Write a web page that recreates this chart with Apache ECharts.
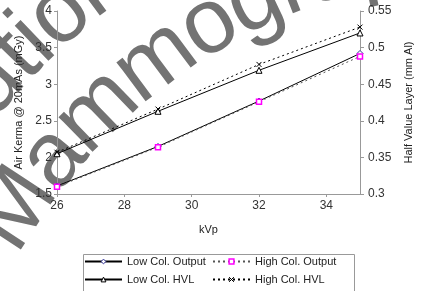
<!DOCTYPE html>
<html>
<head>
<meta charset="utf-8">
<script src="https://cdn.jsdelivr.net/npm/echarts@6/dist/echarts.min.js"></script>
<style>
  html, body { margin: 0; padding: 0; background: #fff; }
  #chart { width: 422px; height: 291px; }
</style>
</head>
<body>
<div id="chart"></div>
<script>
// kVp settings
const kvp = [26, 29, 32, 35]
// air kerma @ 20mAs (mGy)
const lowColOutput = [1.61, 2.15, 2.77, 3.42]
const highColOutput = [1.60, 2.14, 2.76, 3.38]
// half value layer (mm Al)
const lowColHvl = [0.355, 0.413, 0.469, 0.520]
const highColHvl = [0.357, 0.416, 0.477, 0.528]

const FONT = 'Liberation Sans, Arial, sans-serif'
const AXIS_GREY = '#999'

const pairs = vals => kvp.map((k, i) => [k, vals[i]])

// marker styles, shared by series and legend
const lowOutMark = { color: '#fff', borderColor: '#333399', borderWidth: 1 }
const highOutMark = { color: '#fff', borderColor: '#ff00ff', borderWidth: 1.5 }
const lowHvlMark = { color: '#fff', borderColor: '#000', borderWidth: 1 }
const highHvlMark = { color: '#000', borderColor: '#000', borderWidth: 1 }

// curved watermark, one letter at a time along a circle
const measure = document.createElement('canvas').getContext('2d')
function arcText(str, cx, cy, r, startDeg, size) {
  measure.font = size + 'px ' + FONT
  const out = []
  let a = startDeg
  for (const ch of str) {
    const da = measure.measureText(ch).width / r * 180 / Math.PI
    const mid = (a - da / 2) * Math.PI / 180
    out.push({
      type: 'text',
      x: cx + r * Math.cos(mid),
      y: cy - r * Math.sin(mid),
      rotation: mid - Math.PI / 2,
      z: 0,
      silent: true,
      style: {
        text: ch,
        fill: '#737373',
        fontSize: size,
        fontFamily: FONT,
        align: 'center',
        verticalAlign: 'middle'
      }
    })
    a -= da
  }
  return out
}

const chart = echarts.init(document.getElementById('chart'), null, { renderer: 'canvas' })

const legendText = { fontFamily: FONT, fontSize: 11, color: '#222' }

chart.setOption({
  animation: false,
  textStyle: { fontFamily: FONT },
  grid: { left: 57, right: 45, top: 11, bottom: 97 },
  legend: [{
    left: 84, top: 256, orient: 'vertical',
    itemWidth: 37, itemHeight: 6, itemGap: 7, padding: 0,
    textStyle: legendText,
    data: [
      { name: 'Low Col. Output', itemStyle: lowOutMark },
      { name: 'Low Col. HVL', itemStyle: lowHvlMark }
    ]
  }, {
    left: 212, top: 256, orient: 'vertical',
    itemWidth: 37, itemHeight: 6, itemGap: 7, padding: 0,
    textStyle: legendText,
    data: [
      { name: 'High Col. Output', itemStyle: highOutMark },
      { name: 'High Col. HVL', itemStyle: highHvlMark }
    ]
  }],
  graphic: [
    {
      type: 'rect', left: 81, top: 252, z: 1, silent: true,
      shape: { width: 271, height: 38 },
      style: { fill: 'none', stroke: AXIS_GREY, lineWidth: 1 }
    },
    ...arcText('Caution', 505, 530, 680, 151.1, 92),
    ...arcText('Mammography', 505, 530, 584, 150.5, 92)
  ],
  xAxis: {
    type: 'value', min: 26, max: 35, interval: 2,
    name: 'kVp', nameLocation: 'middle', nameGap: 30,
    nameTextStyle: { fontSize: 11, color: '#222' },
    axisLine: { lineStyle: { color: AXIS_GREY } },
    axisTick: { length: 3, lineStyle: { color: AXIS_GREY } },
    axisLabel: { fontSize: 12, color: '#333', showMaxLabel: false, margin: 6 },
    splitLine: { show: false }
  },
  yAxis: [{
    type: 'value', min: 1.5, max: 4, interval: 0.5,
    name: 'Air Kerma @ 20mAs (mGy)', nameLocation: 'middle', nameGap: 31, nameRotate: 90,
    nameTextStyle: { fontSize: 11, color: '#222' },
    axisLine: { show: true, lineStyle: { color: AXIS_GREY } },
    axisTick: { show: true, length: 3, lineStyle: { color: AXIS_GREY } },
    axisLabel: { fontSize: 12, color: '#333', margin: 5 },
    splitLine: { show: false }
  }, {
    type: 'value', position: 'right', min: 0.3, max: 0.55, interval: 0.05,
    name: 'Half Value Layer (mm Al)', nameLocation: 'middle', nameGap: 43, nameRotate: 90,
    nameTextStyle: { fontSize: 11, color: '#222' },
    axisLine: { show: true, lineStyle: { color: AXIS_GREY } },
    axisTick: { show: true, length: 4, lineStyle: { color: AXIS_GREY } },
    axisLabel: { fontSize: 12, color: '#333', margin: 8, formatter: v => +v.toFixed(2) },
    splitLine: { show: false }
  }],
  series: [{
    name: 'Low Col. Output', type: 'line', yAxisIndex: 0,
    data: pairs(lowColOutput),
    symbol: 'diamond', symbolSize: 6,
    itemStyle: lowOutMark,
    lineStyle: { color: '#000', width: 1 }
  }, {
    name: 'High Col. Output', type: 'line', yAxisIndex: 0,
    data: pairs(highColOutput),
    symbol: 'rect', symbolSize: 5,
    itemStyle: highOutMark,
    lineStyle: { color: '#555', width: 1, type: [2, 3] }
  }, {
    name: 'Low Col. HVL', type: 'line', yAxisIndex: 1,
    data: pairs(lowColHvl),
    symbol: 'triangle', symbolSize: 6,
    itemStyle: lowHvlMark,
    lineStyle: { color: '#000', width: 1 }
  }, {
    name: 'High Col. HVL', type: 'line', yAxisIndex: 1,
    data: pairs(highColHvl),
    symbol: 'path://M0,0L10,10M10,0L0,10', symbolSize: 5,
    itemStyle: highHvlMark,
    lineStyle: { color: '#000', width: 1, type: [2, 3] }
  }]
})
</script>
</body>
</html>
